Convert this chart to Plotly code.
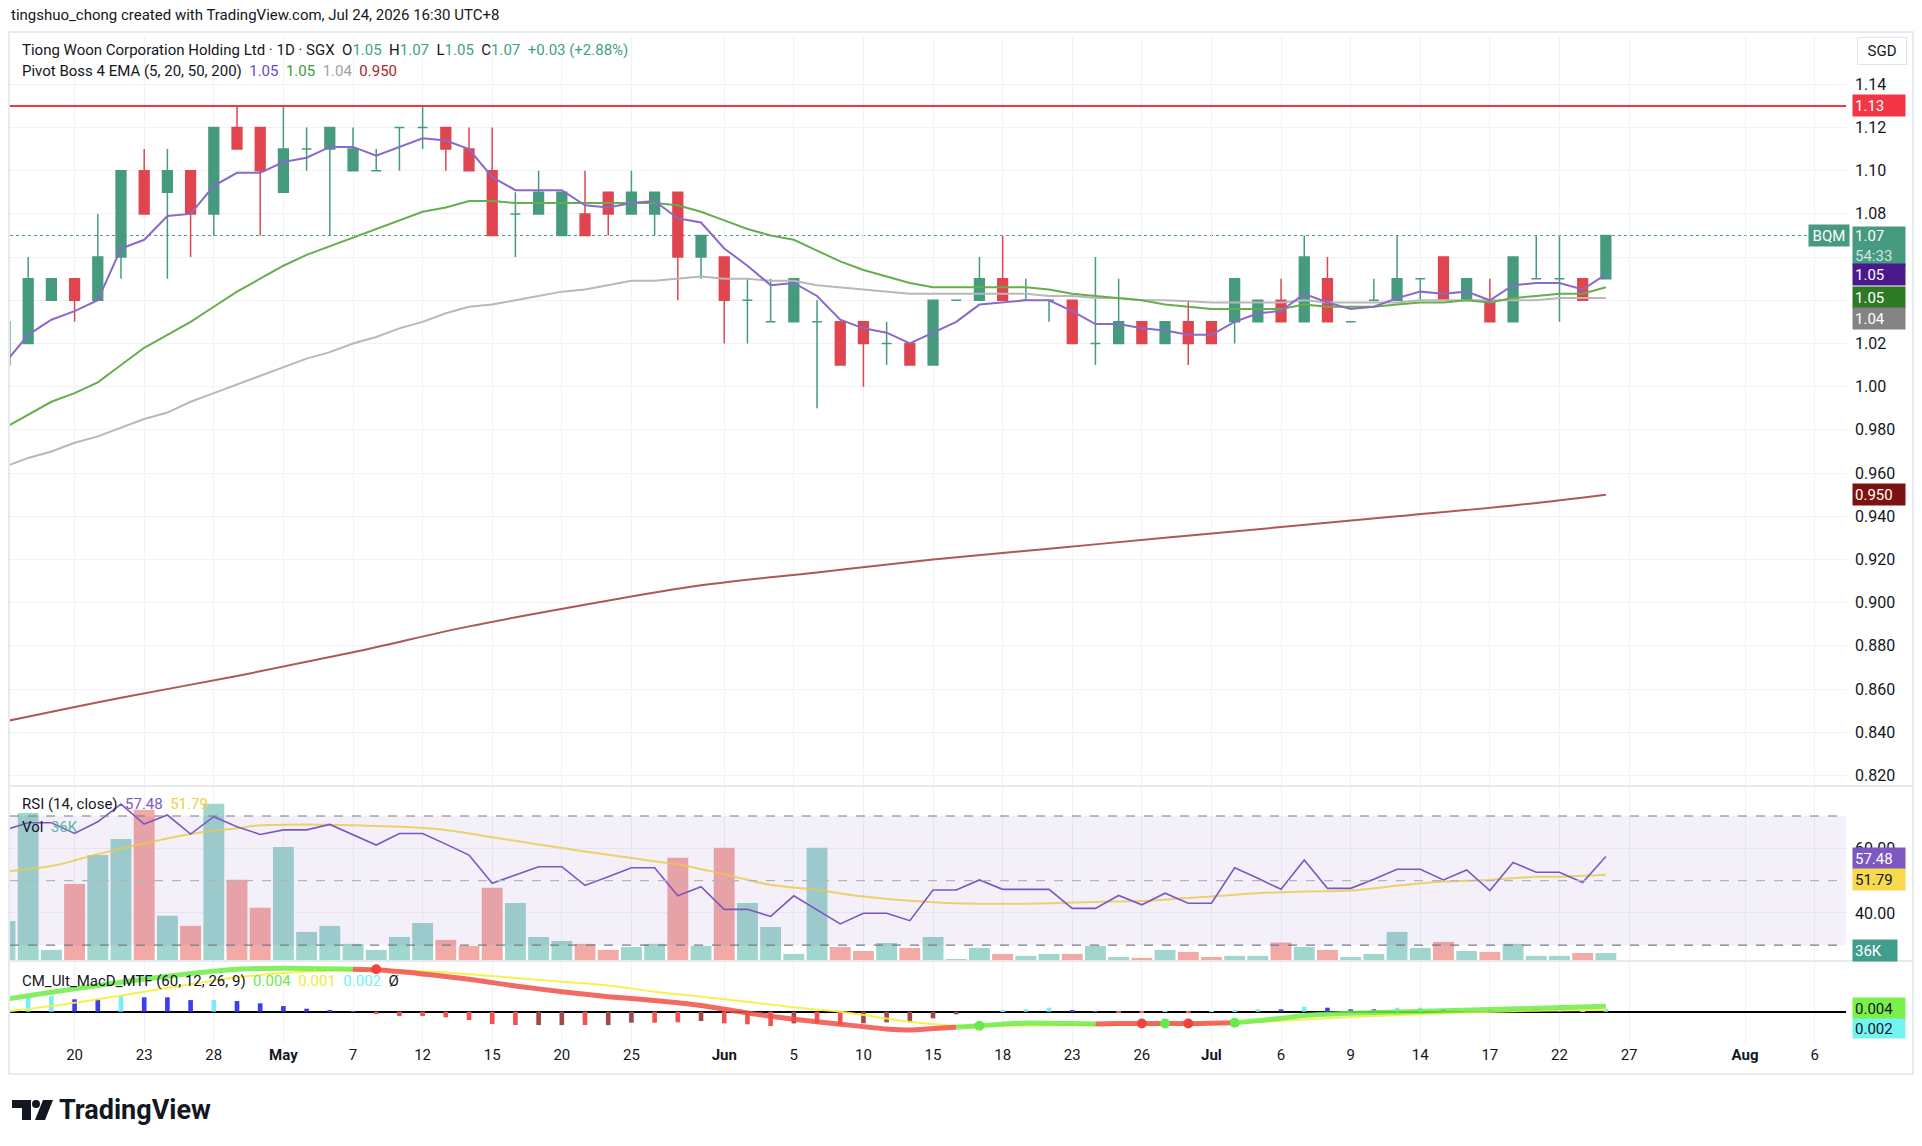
import pandas as pd
import plotly.graph_objects as go

# ---------------------------------------------------------------- data
# SGX trading days shown on the time axis (weekends + SGX holidays skipped)
holidays = ["2026-05-01", "2026-05-27", "2026-06-01"]
days = [d for d in pd.bdate_range("2026-04-15", "2026-08-07").strftime("%Y-%m-%d")
        if d not in holidays]

# daily OHLC, Apr 15 .. Jul 24 2026
opens = [1.01, 1.02, 1.04, 1.05, 1.04, 1.06, 1.10, 1.09, 1.10, 1.08,
         1.12, 1.12, 1.09, 1.11, 1.11, 1.10, 1.10, 1.12, 1.12, 1.12,
         1.11, 1.10, 1.08, 1.08, 1.07, 1.08, 1.09, 1.08, 1.08, 1.09,
         1.06, 1.06, 1.04, 1.03, 1.03, 1.03, 1.03, 1.03, 1.02, 1.02,
         1.01, 1.04, 1.04, 1.05, 1.04, 1.04, 1.04, 1.02, 1.02, 1.03,
         1.02, 1.03, 1.03, 1.03, 1.03, 1.04, 1.03, 1.05, 1.03, 1.04,
         1.04, 1.05, 1.06, 1.04, 1.04, 1.03, 1.05, 1.05, 1.05, 1.05]
highs = [1.03, 1.06, 1.05, 1.05, 1.08, 1.10, 1.11, 1.11, 1.10, 1.12,
         1.13, 1.12, 1.13, 1.12, 1.12, 1.12, 1.11, 1.12, 1.13, 1.12,
         1.12, 1.12, 1.09, 1.10, 1.09, 1.10, 1.09, 1.10, 1.09, 1.09,
         1.07, 1.06, 1.05, 1.05, 1.05, 1.04, 1.03, 1.03, 1.03, 1.02,
         1.04, 1.04, 1.06, 1.07, 1.05, 1.04, 1.04, 1.06, 1.05, 1.03,
         1.03, 1.04, 1.03, 1.05, 1.04, 1.05, 1.07, 1.06, 1.03, 1.05,
         1.07, 1.05, 1.06, 1.05, 1.05, 1.06, 1.07, 1.07, 1.05, 1.07]
lows = [1.01, 1.02, 1.04, 1.03, 1.04, 1.05, 1.08, 1.05, 1.06, 1.07,
        1.11, 1.07, 1.09, 1.10, 1.07, 1.10, 1.10, 1.10, 1.11, 1.10,
        1.10, 1.07, 1.06, 1.08, 1.07, 1.07, 1.07, 1.08, 1.07, 1.04,
        1.05, 1.02, 1.02, 1.03, 1.03, 0.99, 1.01, 1.00, 1.01, 1.01,
        1.01, 1.04, 1.04, 1.04, 1.04, 1.03, 1.02, 1.01, 1.02, 1.02,
        1.02, 1.01, 1.02, 1.02, 1.03, 1.03, 1.03, 1.03, 1.03, 1.04,
        1.04, 1.04, 1.04, 1.04, 1.03, 1.03, 1.05, 1.03, 1.04, 1.05]
closes = [1.03, 1.05, 1.05, 1.04, 1.06, 1.10, 1.08, 1.10, 1.08, 1.12,
          1.11, 1.10, 1.11, 1.11, 1.12, 1.11, 1.10, 1.12, 1.12, 1.11,
          1.10, 1.07, 1.08, 1.09, 1.09, 1.07, 1.08, 1.09, 1.09, 1.06,
          1.07, 1.04, 1.04, 1.03, 1.05, 1.03, 1.01, 1.02, 1.02, 1.01,
          1.04, 1.04, 1.05, 1.04, 1.04, 1.04, 1.02, 1.02, 1.03, 1.02,
          1.03, 1.02, 1.02, 1.05, 1.04, 1.03, 1.06, 1.03, 1.03, 1.04,
          1.05, 1.05, 1.04, 1.05, 1.03, 1.06, 1.05, 1.05, 1.04, 1.07]
volume_k = [180, 666, 50, 346, 477, 549, 680, 203, 158, 707,
            365, 239, 513, 131, 158, 77, 50, 108, 171, 95,
            68, 329, 261, 108, 90, 77, 50, 63, 77, 464,
            68, 509, 261, 153, 32, 509, 63, 45, 81, 59,
            108, 9, 59, 32, 23, 32, 32, 68, 18, 14,
            50, 41, 18, 23, 23, 83, 63, 50, 18, 32,
            131, 59, 86, 45, 41, 77, 23, 23, 36, 36]

# Pivot Boss 4 EMA (5, 20, 50, 200)
ema5 = [1.011, 1.024, 1.031, 1.035, 1.040, 1.064, 1.068, 1.079, 1.080, 1.093,
        1.099, 1.099, 1.104, 1.106, 1.111, 1.111, 1.107, 1.111, 1.115, 1.114,
        1.110, 1.097, 1.091, 1.091, 1.091, 1.084, 1.083, 1.085, 1.086, 1.078,
        1.076, 1.064, 1.056, 1.047, 1.048, 1.042, 1.031, 1.027, 1.025, 1.020,
        1.025, 1.030, 1.038, 1.039, 1.040, 1.040, 1.035, 1.029, 1.029, 1.027,
        1.026, 1.024, 1.024, 1.030, 1.034, 1.035, 1.043, 1.039, 1.036, 1.037,
        1.041, 1.044, 1.043, 1.044, 1.040, 1.047, 1.048, 1.048, 1.045, 1.052]
ema20 = [0.981, 0.987, 0.993, 0.997, 1.002, 1.010, 1.018, 1.024, 1.030, 1.037,
         1.044, 1.050, 1.056, 1.061, 1.065, 1.069, 1.073, 1.077, 1.081, 1.083,
         1.086, 1.086, 1.085, 1.085, 1.085, 1.085, 1.085, 1.085, 1.085, 1.084,
         1.081, 1.077, 1.073, 1.070, 1.068, 1.063, 1.058, 1.054, 1.051, 1.048,
         1.046, 1.046, 1.046, 1.046, 1.046, 1.045, 1.043, 1.042, 1.041, 1.040,
         1.038, 1.037, 1.036, 1.036, 1.036, 1.036, 1.038, 1.037, 1.037, 1.037,
         1.038, 1.039, 1.039, 1.040, 1.039, 1.041, 1.042, 1.043, 1.043, 1.046]
ema50 = [0.963, 0.967, 0.970, 0.974, 0.977, 0.981, 0.985, 0.988, 0.993, 0.997,
         1.001, 1.005, 1.009, 1.013, 1.016, 1.020, 1.023, 1.027, 1.030, 1.034,
         1.037, 1.038, 1.040, 1.042, 1.044, 1.045, 1.047, 1.049, 1.049, 1.050,
         1.051, 1.050, 1.050, 1.049, 1.049, 1.047, 1.046, 1.045, 1.044, 1.043,
         1.043, 1.043, 1.043, 1.043, 1.043, 1.042, 1.042, 1.041, 1.041, 1.040,
         1.040, 1.0395, 1.039, 1.039, 1.039, 1.039, 1.040, 1.039, 1.039, 1.039,
         1.039, 1.040, 1.040, 1.040, 1.040, 1.040, 1.040, 1.041, 1.041, 1.041]
ema200_at = [0, 5, 10, 15, 20, 25, 30, 35, 40, 45, 50, 55, 60, 65, 69]
ema200 = [0.845, 0.856, 0.866, 0.877, 0.889, 0.899, 0.908, 0.914, 0.920,
          0.925, 0.930, 0.935, 0.940, 0.945, 0.950]
resistance = 1.13

# RSI (14, close) and its moving average
rsi = [65.7, 67.9, 67.9, 64.6, 68.2, 73.7, 67.5, 70.3, 64.4, 69.8,
       66.7, 64.3, 65.7, 65.7, 67.4, 64.1, 61.0, 64.6, 64.6, 61.3,
       57.9, 49.2, 51.8, 54.3, 54.3, 48.5, 51.2, 54.0, 54.0, 45.3,
       48.1, 41.1, 41.1, 38.9, 45.3, 40.9, 36.6, 39.9, 39.9, 37.6,
       47.1, 47.1, 50.2, 47.3, 47.3, 47.3, 41.4, 41.4, 45.4, 42.5,
       46.1, 43.0, 43.0, 54.0, 50.7, 47.3, 56.4, 47.6, 47.6, 50.4,
       53.5, 53.5, 50.2, 53.3, 46.9, 55.6, 52.6, 52.6, 49.4, 57.48]
rsi_ma_at = [0, 2, 4, 6, 8, 10, 11, 13, 15, 17, 19, 21, 23, 25, 27, 28, 29, 31, 33,
             35, 37, 39, 41, 43, 45, 47, 49, 51, 52, 54, 56, 58, 60, 62, 64, 66, 67, 69]
rsi_ma = [52.8, 54.5, 58.2, 61.5, 64.4, 66.2, 67.1, 67.4, 67.1, 66.7, 65.7, 63.4, 61.2,
          59.0, 57.0, 56.0, 55.0, 52.0, 48.7, 47.1, 45.1, 43.8, 43.0, 42.8, 43.0, 43.4,
          43.7, 44.6, 45.1, 46.1, 46.6, 46.9, 48.4, 49.7, 50.2, 51.2, 51.2, 51.79]
rsi_levels = [70, 50, 30]

# CM_Ult_MacD_MTF (60, 12, 26, 9)
macd_at = [0, 2, 4, 6, 8, 10, 12, 14, 15, 16, 18, 20, 22, 24, 26, 28, 30, 32, 34, 36,
           38, 39, 40, 41, 42, 44, 46, 47, 48, 49, 50, 51, 52, 53, 55, 56, 58, 62, 66, 69]
macd = [0.0099, 0.0155, 0.0210, 0.0260, 0.0305, 0.0340, 0.0348, 0.0343, 0.0340, 0.0335,
        0.0302, 0.0260, 0.0206, 0.0160, 0.0120, 0.0090, 0.0050, -0.0010, -0.0060, -0.0100,
        -0.0138, -0.0146, -0.0135, -0.0125, -0.0112, -0.0090, -0.0095, -0.0098, -0.0095, -0.0095,
        -0.0095, -0.0095, -0.0092, -0.0088, -0.0053, -0.0030, -0.0013, 0.0008, 0.0027, 0.0044]
macd_above = [1, 1, 1, 1, 1, 1, 1, 1, 0, 0, 0, 0, 0, 0, 0, 0, 0, 0, 0, 0,
              0, 0, 0, 1, 1, 1, 1, 0, 0, 0, 0, 0, 0, 1, 1, 1, 1, 1, 1, 1]
signal_at = [0, 2, 4, 6, 8, 10, 12, 14, 16, 18, 20, 22, 24, 26, 28, 30, 32, 34, 36, 37,
             39, 41, 43, 45, 47, 49, 51, 53, 55, 58, 62, 66, 69]
signal = [0.0, 0.0045, 0.0100, 0.0160, 0.0220, 0.0275, 0.0310, 0.0330, 0.0333, 0.0323,
          0.0300, 0.0270, 0.0240, 0.0210, 0.0160, 0.0120, 0.0080, 0.0035, 0.0, -0.0027,
          -0.0080, -0.0112, -0.0112, -0.0108, -0.0107, -0.0105, -0.0098, -0.0090, -0.0072,
          -0.0043, -0.0013, 0.0008, 0.0013]
hist = [0.0100, 0.0115, 0.0125, 0.0099, 0.0099, 0.0125, 0.0115, 0.0115, 0.0093, 0.0093,
        0.0085, 0.0067, 0.0045, 0.0024, 0.0013, 0.0003, -0.0019, -0.0035, -0.0035, -0.0045,
        -0.0067, -0.0099, -0.0107, -0.0107, -0.0107, -0.0107, -0.0107, -0.0088, -0.0088, -0.0085,
        -0.0075, -0.0093, -0.0101, -0.0115, -0.0093, -0.0093, -0.0107, -0.0093, -0.0085, -0.0085,
        -0.0053, -0.0021, 0.0, 0.0008, 0.0019, 0.0032, 0.0013, 0.0003, -0.0005, -0.0006,
        0.0003, -0.0003, 0.0003, 0.0008, 0.0019, 0.0019, 0.0040, 0.0032, 0.0019, 0.0019,
        0.0032, 0.0032, 0.0019, 0.0019, 0.0008, 0.0019, 0.0019, 0.0008, 0.0010, 0.0024]
# a = above zero & rising, b = above & falling, r = below & falling, m = below & rising
hist_state = list("aaabbabbba" "bbbbbbrrrr" "rrrmmrmmrr" "mrrrmrrmmm"
                  "mmaaaabbrr" "araaababbb" "aabababbaa")
cross_at = [16, 42, 49, 50, 51, 53]
cross_val = [0.0340, -0.0112, -0.0095, -0.0095, -0.0095, -0.0088]
cross_up = [0, 1, 0, 1, 0, 1]

tick_days = ["2026-04-20", "2026-04-23", "2026-04-28", "2026-05-04", "2026-05-07",
             "2026-05-12", "2026-05-15", "2026-05-20", "2026-05-25", "2026-06-02",
             "2026-06-05", "2026-06-10", "2026-06-15", "2026-06-18", "2026-06-23",
             "2026-06-26", "2026-07-01", "2026-07-06", "2026-07-09", "2026-07-14",
             "2026-07-17", "2026-07-22", "2026-07-27", "2026-08-03", "2026-08-06"]
tick_text = ["20", "23", "28", "<b>May</b>", "7", "12", "15", "20", "25", "<b>Jun</b>",
             "5", "10", "15", "18", "23", "26", "<b>Jul</b>", "6", "9", "14", "17", "22",
             "27", "<b>Aug</b>", "6"]
price_ticks = [1.14, 1.12, 1.10, 1.08, 1.06, 1.04, 1.02, 1.00, 0.98, 0.96, 0.94,
               0.92, 0.90, 0.88, 0.86, 0.84, 0.82]
price_tick_text = ["1.14", "1.12", "1.10", "1.08", "", "", "1.02", "1.00", "0.980", "0.960",
                   "0.940", "0.920", "0.900", "0.880", "0.860", "0.840", "0.820"]

# ---------------------------------------------------------------- geometry helpers
FW, FH = 1922, 1146
ML, MR, MT, MB = 10, 76, 37, 102
PW, PH = FW - ML - MR, FH - MT - MB


def fx(x):
    return (x - ML) / PW


def fy(y):
    return (FH - MB - y) / PH


FONT = "Roboto, 'Noto Sans', sans-serif"
TXT = "#131722"
GRID = "#f0f2f6"
UP, DOWN = "#459a80", "#e0454f"
C5, C20, C50, C200 = "#8a69c8", "#66ad4e", "#b8b8b8", "#ad5856"

bars = list(range(len(closes)))
fig = go.Figure()

# ---------------------------------------------------------------- price pane
up = [c >= o for o, c in zip(opens, closes)]


def pick(vals, keep):
    return [v if k else None for v, k in zip(vals, keep)]


for keep, col in ((up, UP), ([not u for u in up], DOWN)):
    fig.add_trace(go.Candlestick(
        x=bars, open=pick(opens, keep), high=pick(highs, keep),
        low=pick(lows, keep), close=pick(closes, keep),
        increasing=dict(line=dict(color=col, width=1.5), fillcolor=col),
        decreasing=dict(line=dict(color=col, width=1.5), fillcolor=col),
        whiskerwidth=0, hoverinfo="skip", xaxis="x", yaxis="y"))

fig.add_trace(go.Scatter(x=ema200_at, y=ema200, mode="lines", line=dict(color=C200, width=2, shape="spline"),
                         xaxis="x", yaxis="y"))
for vals, col in ((ema50, C50), (ema20, C20), (ema5, C5)):
    fig.add_trace(go.Scatter(x=bars, y=vals, mode="lines", line=dict(color=col, width=2),
                             xaxis="x", yaxis="y"))

# ---------------------------------------------------------------- volume + RSI pane
fig.add_trace(go.Bar(x=bars, y=volume_k, width=0.9,
                     marker=dict(color=["#a0d6ce" if u else "#f2aaa6" for u in up], line_width=0),
                     xaxis="x", yaxis="y2"))
fig.add_trace(go.Scatter(x=rsi_ma_at, y=rsi_ma, mode="lines",
                         line=dict(color="rgba(245,212,60,0.8)", width=2, shape="spline"),
                         xaxis="x", yaxis="y3"))
fig.add_trace(go.Scatter(x=bars, y=rsi, mode="lines", line=dict(color="#7e57c2", width=1.6),
                         xaxis="x", yaxis="y3"))

# ---------------------------------------------------------------- MACD pane
hist_cols = {"a": "#78eef8", "b": "#3d3df0", "r": "#ef5350", "m": "#9c4a4a"}
fig.add_trace(go.Bar(x=bars, y=hist, width=0.2,
                     marker=dict(color=[hist_cols[s] for s in hist_state], line_width=0),
                     xaxis="x", yaxis="y4"))
fig.add_trace(go.Scatter(x=signal_at, y=signal, mode="lines",
                         line=dict(color="rgba(245,240,60,0.9)", width=2, shape="spline"),
                         xaxis="x", yaxis="y4"))
start = 0
for k in range(1, len(macd_at) + 1):
    if k == len(macd_at) or macd_above[k] != macd_above[start]:
        end = min(k, len(macd_at) - 1)
        fig.add_trace(go.Scatter(
            x=macd_at[start:end + 1], y=macd[start:end + 1], mode="lines",
            line=dict(color="rgba(110,236,70,0.85)" if macd_above[start] else "rgba(238,80,72,0.85)",
                      width=5, shape="spline", smoothing=0.6),
            xaxis="x", yaxis="y4"))
        start = k
fig.add_trace(go.Scatter(x=cross_at, y=cross_val, mode="markers",
                         marker=dict(size=10, color=["#66e94a" if c else "#f0443a" for c in cross_up]),
                         xaxis="x", yaxis="y4"))

# ---------------------------------------------------------------- shapes
shapes = [
    dict(type="line", xref="paper", x0=0, x1=1, yref="y", y0=resistance, y1=resistance,
         line=dict(color="#f23645", width=2)),
    dict(type="line", xref="paper", x0=0, x1=1, yref="y", y0=closes[-1], y1=closes[-1],
         line=dict(color=UP, width=1, dash="dot"), layer="below"),
    dict(type="rect", xref="paper", x0=0, x1=1, yref="y3", y0=rsi_levels[2], y1=rsi_levels[0],
         fillcolor="rgba(126,87,194,0.09)", line_width=0, layer="above"),
]
for lv in rsi_levels:
    shapes.append(dict(type="line", xref="paper", x0=0, x1=1, yref="y3", y0=lv, y1=lv,
                       line=dict(color="#787b86" if lv != 50 else "#b2b5be", width=1.2, dash="dash")))
for yy in (786, 961):
    shapes.append(dict(type="line", xref="paper", x0=fx(10), x1=fx(1913), yref="paper",
                       y0=fy(yy), y1=fy(yy), line=dict(color="#e6e9ef", width=2)))
shapes.append(dict(type="rect", xref="paper", yref="paper", x0=fx(9), x1=fx(1913),
                   y0=fy(32), y1=fy(1074), line=dict(color="#e0e3eb", width=1.5)))


def path(pts):
    return "M " + " L ".join(f"{fx(a):.5f},{fy(b):.5f}" for a, b in pts) + " Z"


shapes += [
    dict(type="path", xref="paper", yref="paper", line_width=0, fillcolor=TXT,
         path=path([(12, 1100), (31, 1100), (31, 1120), (22, 1120), (22, 1108), (12, 1108)])),
    dict(type="circle", xref="paper", yref="paper", line_width=0, fillcolor=TXT,
         x0=fx(32), x1=fx(40), y0=fy(1100), y1=fy(1108)),
    dict(type="path", xref="paper", yref="paper", line_width=0, fillcolor=TXT,
         path=path([(43, 1100), (53, 1100), (45, 1120), (35, 1120)])),
]

# ---------------------------------------------------------------- annotations


def txt(x, y, text, size=15, **kw):
    return dict(x=fx(x), y=fy(y), xref="paper", yref="paper", xanchor="left", yanchor="middle",
                text=text, showarrow=False, font=dict(family=FONT, size=size, color=TXT), **kw)


def span(col, s):
    return f"<span style='color:{col}'>{s}</span>"


def box(y, yref, text, bg, fg="white", width=48, height=17):
    return dict(x=fx(1852), xref="paper", xanchor="left", y=y, yref=yref, yanchor="middle",
                text=text, showarrow=False, bgcolor=bg, align="left",
                font=dict(family=FONT, size=15, color=fg), width=width, height=height, borderpad=2)


G = "#3f9f83"
ann = [
    txt(9, 15, "tingshuo_chong created with TradingView.com, Jul 24, 2026 16:30 UTC+8"),
    txt(20, 50, "Tiong Woon Corporation Holding Ltd · 1D · SGX  O" + span(G, f"{opens[-1]:.2f}")
        + "  H" + span(G, f"{highs[-1]:.2f}") + "  L" + span(G, f"{lows[-1]:.2f}")
        + "  C" + span(G, f"{closes[-1]:.2f}") + "  " + span(G, "+0.03 (+2.88%)")),
    txt(20, 71, "Pivot Boss 4 EMA (5, 20, 50, 200)  " + span("#6a4bc4", f"{ema5[-1]:.2f}") + "  "
        + span("#3d9a3d", f"{ema20[-1]:.2f}") + "  " + span("#a0a0a0", f"{ema50[-1]:.2f}") + "  "
        + span("#a52a2a", f"{ema200[-1]:.3f}")),
    txt(20, 804, "RSI (14, close)  " + span("#7e57c2", f"{rsi[-1]:.2f}") + "  "
        + span("#f2cf3a", f"{rsi_ma[-1]:.2f}")),
    txt(20, 827, "Vol  " + span("#5fb3a7", f"{volume_k[-1]}K")),
    txt(20, 981, "CM_Ult_MacD_MTF (60, 12, 26, 9)  " + span("#6fe84c", "0.004") + "  "
        + span("#eded3a", "0.001") + "  " + span("#6ef2f2", "0.002") + "  Ø"),
    txt(57, 1110, "<b>TradingView</b>", size=27),
    box(resistance, "y", f"{resistance:.2f}", "#f23645"),
    dict(x=fx(1852), xref="paper", xanchor="left", y=fy(226), yref="paper", yanchor="top",
         text=f"{closes[-1]:.2f}<br>" + span("rgba(255,255,255,0.75)", "54:33"), showarrow=False,
         bgcolor=UP, align="left", font=dict(family=FONT, size=15, color="white"),
         width=48, height=34, borderpad=2),
    dict(x=fx(1850), xref="paper", xanchor="right", y=closes[-1], yref="y", yanchor="middle",
         text="BQM", showarrow=False, bgcolor=UP, font=dict(family=FONT, size=15, color="white"),
         width=36, height=17, borderpad=2),
    box(fy(275), "paper", f"{ema5[-1]:.2f}", "#4a1a8c"),
    box(fy(297), "paper", f"{ema20[-1]:.2f}", "#2e7a24"),
    box(fy(318), "paper", f"{ema50[-1]:.2f}", "#848484"),
    box(ema200[-1], "y", f"{ema200[-1]:.3f}", "#7b1313"),
    box(fy(858), "paper", f"{rsi[-1]:.2f}", "#7e57c2"),
    box(fy(879), "paper", f"{rsi_ma[-1]:.2f}", "#f7d94c", fg=TXT),
    box(fy(950), "paper", f"{volume_k[-1]}K", "#3f9e8e", width=40),
    box(fy(1008), "paper", "0.004", "#7cf04a", fg=TXT),
    box(fy(1028), "paper", "0.002", "#74f3f3", fg=TXT, height=15),
    dict(x=fx(1857), xref="paper", xanchor="left", y=fy(37), yref="paper", yanchor="top",
         text="SGD", showarrow=False, bgcolor="white", bordercolor="#e0e3eb", borderwidth=1,
         font=dict(family=FONT, size=15, color=TXT), width=46, height=24, borderpad=1),
]

# ---------------------------------------------------------------- layout
tickfont = dict(family=FONT, size=15, color=TXT)
pricefont = dict(family=FONT, size=16, color=TXT)
fig.update_layout(
    width=FW, height=FH, margin=dict(l=ML, r=MR, t=MT, b=MB, pad=0),
    paper_bgcolor="white", plot_bgcolor="white", showlegend=False, hovermode=False,
    boxgap=0.4, font=dict(family=FONT, color=TXT),
    shapes=shapes, annotations=ann,
    xaxis=dict(domain=[0, 1], range=[0.216, 79.35], anchor="y4",
               tickvals=[days.index(d) for d in tick_days], ticktext=tick_text,
               showgrid=True, gridcolor=GRID, zeroline=False, showline=False, ticks="",
               tickfont=tickfont, rangeslider=dict(visible=False), fixedrange=True),
    yaxis=dict(domain=[fy(786), 1], range=[0.8151, 1.1619], anchor="x", side="right",
               tickvals=price_ticks, ticktext=price_tick_text, showgrid=True, gridcolor=GRID,
               zeroline=False, ticks="", ticklabelstandoff=8, tickfont=pricefont),
    yaxis2=dict(domain=[fy(961), fy(786)], range=[0, 787], anchor="x", visible=False),
    yaxis3=dict(overlaying="y2", range=[25.11, 79.29], anchor="x", side="right",
                tickvals=[40, 60], ticktext=["40.00", "60.00"], showgrid=True, gridcolor=GRID,
                zeroline=False, ticks="", ticklabelstandoff=8, tickfont=pricefont),
    yaxis4=dict(domain=[0, fy(961)], range=[-0.02584, 0.04056], anchor="x", showgrid=False,
                zeroline=True, zerolinecolor="#000000", zerolinewidth=2, showticklabels=False),
)

fig.write_html("out.html", config={"displayModeBar": False},
               post_script="document.body.style.margin = '0';")
